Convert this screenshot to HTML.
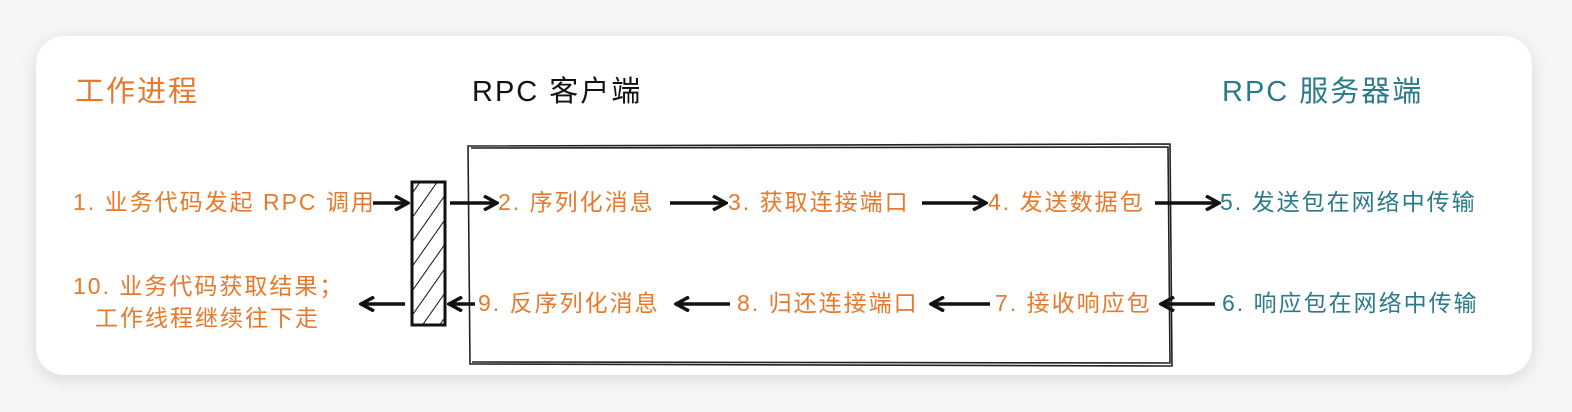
<!DOCTYPE html>
<html><head><meta charset="utf-8"><style>
body{margin:0;width:1572px;height:412px;background:#f6f6f6;position:relative;overflow:hidden;font-family:"Liberation Sans","Noto Sans CJK SC",sans-serif}
.card{position:absolute;left:36px;top:36px;width:1496px;height:339px;background:#fff;border-radius:28px;box-shadow:0 4px 18px rgba(0,0,0,.12)}
.t{position:absolute;white-space:nowrap;font-size:23px;line-height:28px;letter-spacing:2px}
.o{color:#e8782a}.b{color:#111}.g{color:#2b7a8a}
.h{font-size:29px;line-height:34px;letter-spacing:2px}
svg{position:absolute;left:0;top:0}
</style></head><body>
<div class="card"></div>
<svg width="1572" height="412">
<defs>
<pattern id="hatch" width="14" height="14" patternUnits="userSpaceOnUse" patternTransform="rotate(35)">
<line x1="0" y1="0" x2="0" y2="14" stroke="#111" stroke-width="2"/></pattern>
<marker id="ar" markerWidth="16" markerHeight="16" refX="13" refY="8" orient="auto" markerUnits="userSpaceOnUse"><path d="M1,1 L14,8 L1,15" fill="none" stroke="#111" stroke-width="3.5"/></marker>
</defs>
<g fill="none" stroke="#222" stroke-width="1.6">
<path d="M468,146 L1170,144 L1172,366 L470,364 Z"/>
<path d="M471,148 L1168,147 L1170,363 L472,362"/>
</g>
<rect x="412" y="182" width="33" height="143" fill="url(#hatch)" stroke="#111" stroke-width="3"/>
<g stroke="#111" stroke-width="3.5" fill="none" marker-end="url(#ar)">
<line x1="373" y1="203" x2="407" y2="203"/>
<line x1="450" y1="203" x2="496" y2="203"/>
<line x1="670" y1="203" x2="725" y2="203"/>
<line x1="922" y1="203" x2="985" y2="203"/>
<line x1="1155" y1="203" x2="1218" y2="203"/>
<line x1="405" y1="304" x2="362" y2="304"/>
<line x1="475" y1="304" x2="450" y2="304"/>
<line x1="730" y1="304" x2="677" y2="304"/>
<line x1="990" y1="304" x2="932" y2="304"/>
<line x1="1215" y1="304" x2="1162" y2="304"/>
</g>
</svg>
<div class="t h o" style="left:75px;top:75px">工作进程</div>
<div class="t h b" style="left:472px;top:75px">RPC 客户端</div>
<div class="t h g" style="left:1222px;top:75px">RPC 服务器端</div>
<div class="t o" style="left:73px;top:188px">1. 业务代码发起 RPC 调用</div>
<div class="t o" style="left:498px;top:188px">2. 序列化消息</div>
<div class="t o" style="left:728px;top:188px">3. 获取连接端口</div>
<div class="t o" style="left:988px;top:188px">4. 发送数据包</div>
<div class="t g" style="left:1220px;top:188px">5. 发送包在网络中传输</div>
<div class="t o" style="left:73px;top:272px">10. 业务代码获取结果；</div>
<div class="t o" style="left:95px;top:304px">工作线程继续往下走</div>
<div class="t o" style="left:478px;top:289px">9. 反序列化消息</div>
<div class="t o" style="left:737px;top:289px">8. 归还连接端口</div>
<div class="t o" style="left:995px;top:289px">7. 接收响应包</div>
<div class="t g" style="left:1222px;top:289px">6. 响应包在网络中传输</div>
</body></html>
